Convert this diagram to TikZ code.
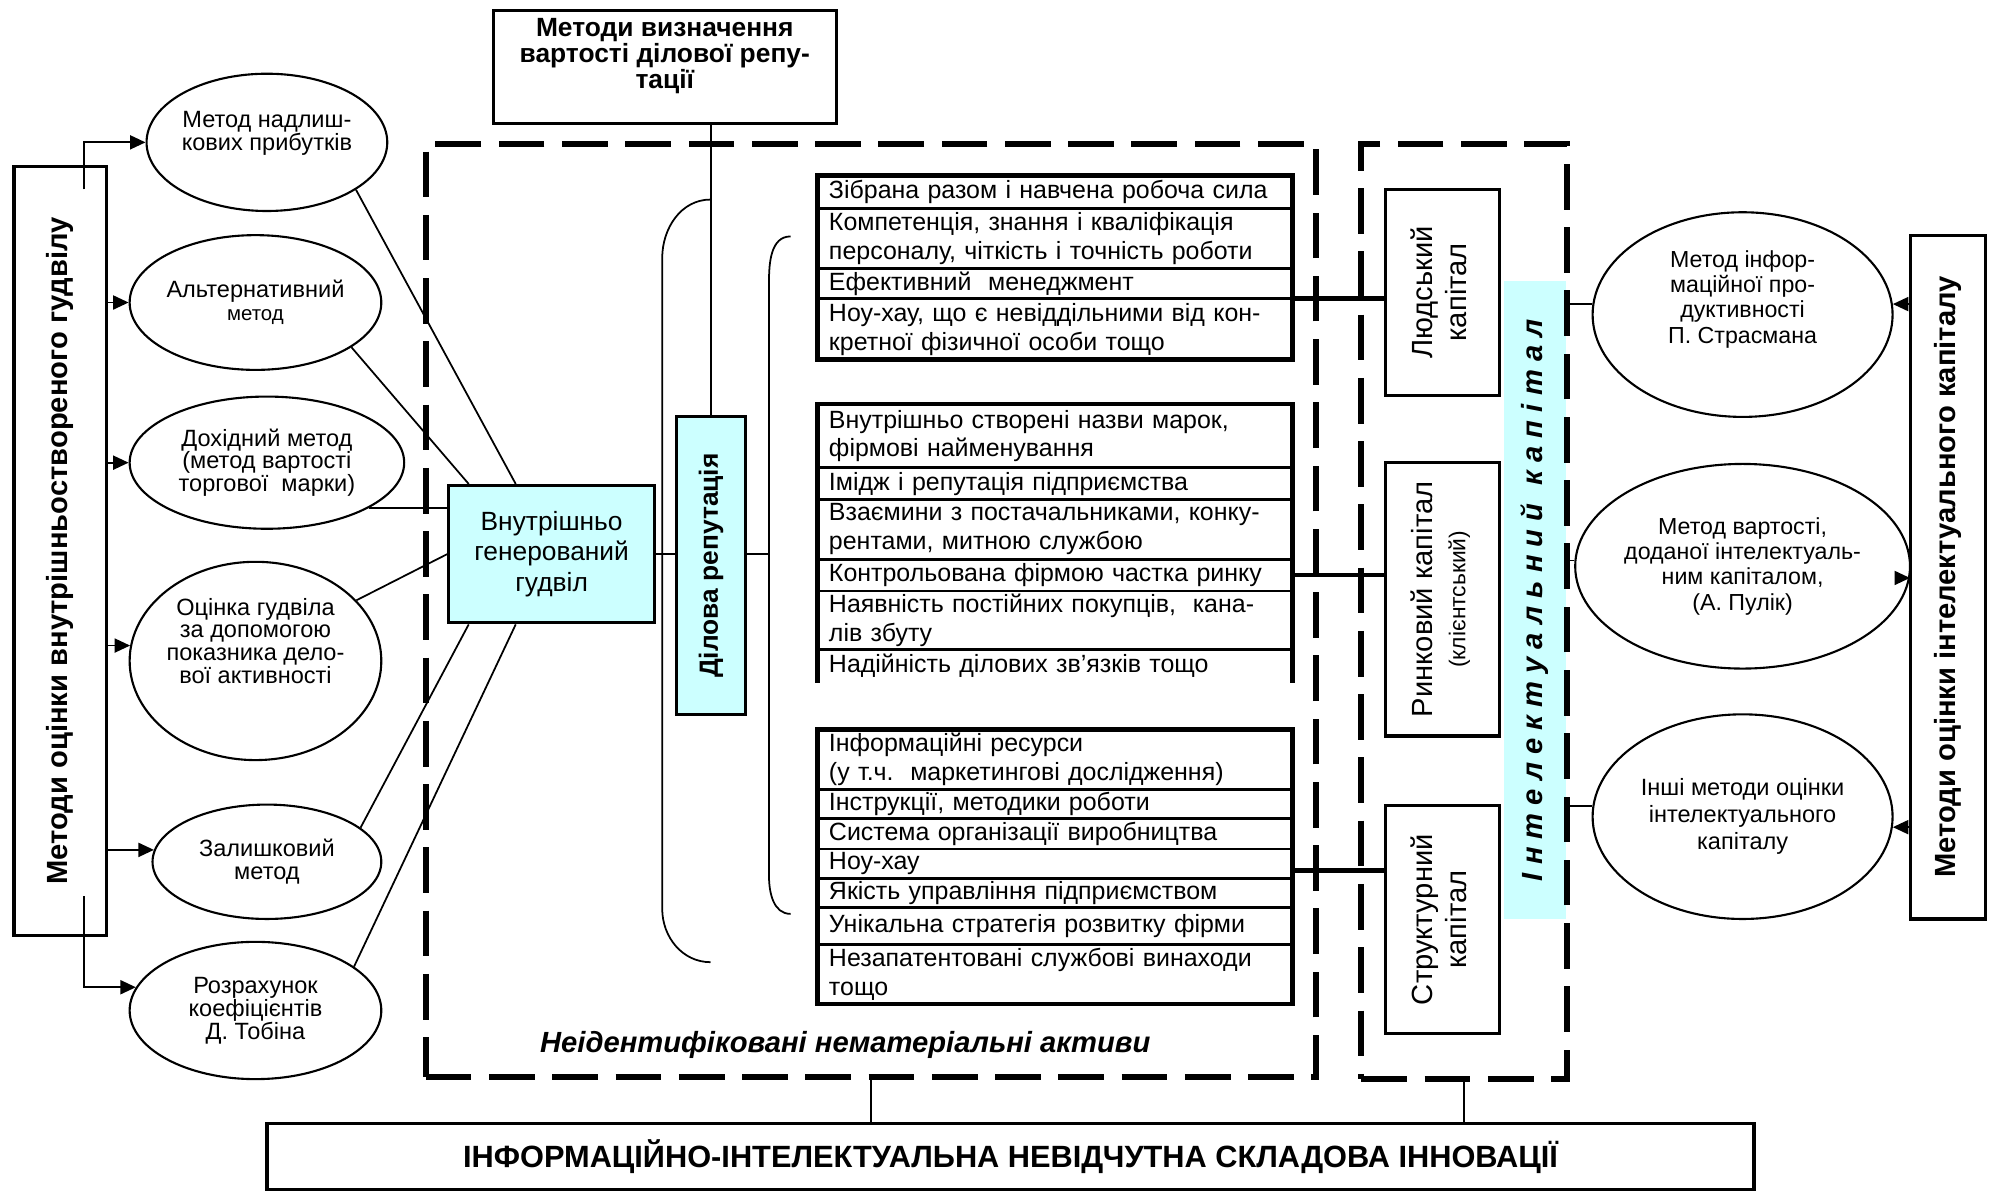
\documentclass[tikz,border=0pt]{standalone}
\usepackage{fontspec}
\setmainfont{Liberation Sans}
\newfontfamily\spacedfont[LetterSpace=28]{Liberation Sans}
\usepackage{graphicx}
\usepackage{tikz}
\usetikzlibrary{arrows.meta, positioning, shapes.geometric, calc}
\definecolor{skycyan}{HTML}{CCFFFF}
\newcommand{\spx}{0.1271mm}

\begin{document}
\begin{tikzpicture}[
    x=0.1271mm, y=-0.1271mm,
    oval/.style={draw, ellipse, line width=0.6pt, inner sep=0pt, align=center, font=\fontsize{6.7}{6.5}\selectfont},
    rightoval/.style={oval, minimum width=236*\spx, minimum height=161*\spx, font=\fontsize{6.6}{7.2}\selectfont},
    framebox/.style={draw, line width=0.9pt, inner sep=0pt},
    cyanbox/.style={framebox, fill=skycyan},
    rowcell/.style={draw, line width=0.8pt, outer sep=0pt, text width=45.2mm, inner xsep=1.17mm, inner ysep=0pt, align=left, font=\fontsize{7.1}{8.2}\selectfont},
    listframe/.style={line width=1.3pt},
    dashbox/.style={draw, line width=1.7pt, dash pattern=on 13pt off 5pt},
    arrow/.style={-{Triangle[length=4.4pt, width=4pt]}, line width=0.5pt},
    link/.style={line width=0.5pt},
    capline/.style={line width=1.3pt}
]
    \useasboundingbox (0,0) rectangle (1568,938);

    % Dashed groups
    \node[dashbox, minimum width=700*\spx, minimum height=734*\spx] (nia) at (685,480) {};
    \node[fill=skycyan, inner sep=0pt, minimum width=49*\spx, minimum height=502*\spx] (icstrip) at (1207.5,472)
        {\rotatebox{90}{\fontsize{8.3}{9}\selectfont\spacedfont\bfseries\itshape Інтелектуальний\hspace{5pt}капітал}};
    \node[dashbox, minimum width=162*\spx, minimum height=736*\spx] (icap) at (1152,481) {};
    \node[font=\fontsize{8.3}{10}\selectfont\bfseries\itshape] (niat) at (665,822) {Неідентифіковані нематеріальні активи};

    % Title box
    \node[framebox, align=center, minimum width=270*\spx, minimum height=89*\spx, font=\fontsize{7.5}{7.4}\selectfont\bfseries] (vdr) at (523,52.5)
        {Методи визначення\\вартості ділової репу-\\тації\\\mbox{}};

    % Left methods
    \node[framebox, minimum width=73*\spx, minimum height=605*\spx, font=\fontsize{8.3}{9}\selectfont\bfseries] (lbox) at (47.5,433.5)
        {\rotatebox{90}{Методи оцінки внутрішньоствореного гудвілу}};
    \node[oval, minimum width=180*\spx, minimum height=108*\spx] (e1) at (210,112) {Метод надлиш-\\кових прибутків\\\mbox{}};
    \node[oval, minimum width=198*\spx, minimum height=106*\spx] (e2) at (201,238) {Альтернативний\\{\fontsize{5.8}{6.5}\selectfont метод}};
    \node[oval, minimum width=216*\spx, minimum height=104*\spx] (e3) at (210,364) {Дохідний метод\\(метод вартості\\торгової\ \ марки)};
    \node[oval, minimum width=198*\spx, minimum height=156*\spx] (e4) at (201,520) {Оцінка гудвіла\\за допомогою\\показника дело-\\вої активності\\[5pt]\mbox{}};
    \node[oval, minimum width=180*\spx, minimum height=90*\spx] (e5) at (210,678) {Залишковий\\метод};
    \node[oval, minimum width=198*\spx, minimum height=108*\spx] (e6) at (201,795) {Розрахунок\\коефіцієнтів\\Д. Тобіна};

    % Goodwill and reputation
    \node[cyanbox, align=center, minimum width=162*\spx, minimum height=108*\spx, font=\fontsize{7.5}{8.7}\selectfont] (gw) at (434,436)
        {Внутрішньо\\генерований\\гудвіл};
    \node[cyanbox, minimum width=54*\spx, minimum height=234*\spx, font=\fontsize{7.5}{9}\selectfont\bfseries] (dr) at (559.5,445)
        {\rotatebox{90}{Ділова репутація}};

    % Human capital list
    \node[rowcell, minimum height=26*\spx, anchor=north west] (k1) at (643,138) {Зібрана разом і навчена робоча сила};
    \node[rowcell, minimum height=47*\spx, below=0pt of k1] (k2) {Компетенція, знання і кваліфікація\\персоналу, чіткість і точність роботи};
    \node[rowcell, minimum height=24*\spx, below=0pt of k2] (k3) {Ефективний\ \ менеджмент};
    \node[rowcell, minimum height=48*\spx, below=0pt of k3] (k4) {Ноу-хау, що є невіддільними від кон-\\кретної фізичної особи тощо};
    \draw[listframe] (k1.north west) rectangle (k4.south east);

    % Market capital list
    \node[rowcell, minimum height=50*\spx, anchor=north west] (m1) at (643,318) {Внутрішньо створені назви марок,\\фірмові найменування};
    \node[rowcell, minimum height=25*\spx, below=0pt of m1] (m2) {Імідж і репутація підприємства};
    \node[rowcell, minimum height=47*\spx, below=0pt of m2] (m3) {Взаємини з постачальниками, конку-\\рентами, митною службою};
    \node[rowcell, minimum height=25*\spx, below=0pt of m3] (m4) {Контрольована фірмою частка ринку};
    \node[rowcell, minimum height=46*\spx, below=0pt of m4] (m5) {Наявність постійних покупців,\ \ кана-\\лів збуту};
    \node[rowcell, draw=none, minimum height=26*\spx, below=0pt of m5] (m6) {Надійність ділових зв'язків тощо};
    \draw[listframe] (m6.south west) -- (m1.north west) -- (m1.north east) -- (m6.south east);

    % Structural capital list
    \node[rowcell, minimum height=47*\spx, anchor=north west] (n1) at (643,574) {Інформаційні ресурси\\(у т.ч.\ \ маркетингові дослідження)};
    \node[rowcell, minimum height=23*\spx, below=0pt of n1] (n2) {Інструкції, методики роботи};
    \node[rowcell, minimum height=24*\spx, below=0pt of n2] (n3) {Система організації виробництва};
    \node[rowcell, minimum height=23*\spx, below=0pt of n3] (n4) {Ноу-хау};
    \node[rowcell, minimum height=23*\spx, below=0pt of n4] (n5) {Якість управління підприємством};
    \node[rowcell, minimum height=29*\spx, below=0pt of n5] (n6) {Унікальна стратегія розвитку фірми};
    \node[rowcell, minimum height=47*\spx, below=0pt of n6] (n7) {Незапатентовані службові винаходи\\тощо};
    \draw[listframe] (n1.north west) rectangle (n7.south east);

    % Capital boxes
    \node[framebox, minimum width=90*\spx, minimum height=162*\spx, font=\fontsize{8.3}{9.5}\selectfont] (hc) at (1135,230)
        {\rotatebox{90}{\begin{tabular}{@{}c@{}}Людський\\капітал\end{tabular}}};
    \node[framebox, minimum width=90*\spx, minimum height=215*\spx, font=\fontsize{8.3}{9.2}\selectfont] (rc) at (1135,471.5)
        {\rotatebox{90}{\begin{tabular}{@{}c@{}}Ринковий капітал\\{\fontsize{6.5}{7}\selectfont(клієнтський)}\end{tabular}}};
    \node[framebox, minimum width=90*\spx, minimum height=179*\spx, font=\fontsize{8.3}{9.5}\selectfont] (sc) at (1135,723.5)
        {\rotatebox{90}{\begin{tabular}{@{}c@{}}Структурний\\капітал\end{tabular}}};

    % Right methods
    \node[rightoval] (r1) at (1371,247.5) {Метод інфор-\\маційної про-\\дуктивності\\П. Страсмана\\[3pt]\mbox{}};
    \node[rightoval] (r2) at (1371,445.5) {Метод вартості,\\доданої інтелектуаль-\\ним капіталом,\\(А. Пулік)};
    \node[rightoval, font=\fontsize{6.7}{7.7}\selectfont] (r3) at (1371,642.5) {Інші методи оцінки\\інтелектуального\\капіталу};
    \node[framebox, minimum width=59*\spx, minimum height=538*\spx, font=\fontsize{8.3}{9}\selectfont\bfseries] (rbox) at (1532.5,454)
        {\rotatebox{90}{Методи оцінки інтелектуального капіталу}};

    % Bottom box
    \node[framebox, minimum width=1170*\spx, minimum height=52*\spx, font=\fontsize{8.75}{10}\selectfont\bfseries] (bb) at (795,910)
        {ІНФОРМАЦІЙНО-ІНТЕЛЕКТУАЛЬНА НЕВІДЧУТНА СКЛАДОВА ІННОВАЦІЇ};

    % Arrows from left box
    \coordinate (lt) at (66,149);
    \coordinate (lb) at (66,705);
    \draw[arrow] (lt) |- (e1.west);
    \draw[arrow] (lbox.east |- e2.west) -- (e2.west);
    \draw[arrow] (lbox.east |- e3.west) -- (e3.west);
    \draw[arrow] (lbox.east |- e4.173) -- (e4.173);
    \draw[arrow] (lbox.east |- e5.174) -- (e5.174);
    \draw[arrow] (lb) |- (e6.169);

    % Ellipses to goodwill
    \draw[link] (e1.-28) -- ($(gw.north west)+(54,0)$);
    \draw[link] (e2.-25) -- ($(gw.north west)+(17,0)$);
    \draw[link] (e3.-24) -- (e3.-24 -| gw.west);
    \draw[link] (e4.31) -- (gw.west);
    \draw[link] (e5.20) -- ($(gw.south west)+(17,0)$);
    \draw[link] (e6.24) -- ($(gw.south west)+(54,0)$);

    % Brackets
    \coordinate (b2) at (605,436);
    \draw[link] (dr.north |- vdr.south) -- (dr.north);
    \draw[link] (559,157) to[out=180, in=90] (521,203) -- (521,715) to[out=-90, in=180] (559,757);
    \draw[link] (622,186) to[out=180, in=90] (605,222) -- (605,689) to[out=-90, in=180] (622,719);
    \draw[link] (gw.east) -- (gw.east -| dr.west);
    \draw[link] (dr.east |- b2) -- (b2);

    % Lists to capital
    \draw[capline] (k4.north east) -- (k4.north east -| hc.west);
    \draw[capline] (m4.east) -- (m4.east -| rc.west);
    \draw[capline] ([yshift=-2pt]n4.east) -- ([yshift=-2pt]n4.east -| sc.west);

    % Right side
    \draw[link] (icap.east |- r1.176) -- (r1.176);
    \draw[link] (icap.east |- r2.178) -- (r2.178);
    \draw[link] (icap.east |- r3.176) -- (r3.176);
    \draw[arrow] (rbox.west |- r1.4) -- (r1.4);
    \draw[arrow] (rbox.west |- r2.-4) -- (r2.-4);
    \draw[arrow] (rbox.west |- r3.-4) -- (r3.-4);

    % To bottom
    \draw[link] (nia.south) -- (nia.south |- bb.north);
    \draw[link] (icap.south) -- (icap.south |- bb.north);

\end{tikzpicture}
\end{document}
